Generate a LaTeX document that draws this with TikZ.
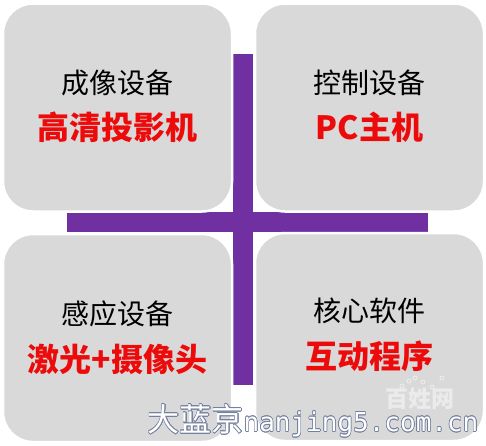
\documentclass[tikz,border=0pt]{standalone}
\usepackage{fontspec}
\usepackage{contour}
\newfontfamily\cjk{Noto Sans CJK SC}
\newfontfamily\wmmono{DejaVu Sans Mono}
\definecolor{boxgray}{rgb}{0.85,0.85,0.85}
\definecolor{crosspurple}{rgb}{0.44,0.19,0.63}
\definecolor{labelred}{rgb}{0.93,0.04,0.04}
\definecolor{logogray}{rgb}{0.92,0.92,0.92}
\definecolor{wmedge}{rgb}{0.45,0.50,0.62}
\contourlength{0.6pt}

\begin{document}
\begin{tikzpicture}[
        x=1pt,y=-1pt,
        panel/.style={fill=boxgray, draw=white, line width=2.5pt,
            rounded corners=30pt, minimum width=229pt, minimum height=208pt,
            inner sep=0pt},
        heading/.style={font={\cjk\fontsize{28}{30}\selectfont}},
        device/.style={text=labelred, font={\cjk\bfseries\fontsize{32}{34}\selectfont}},
        watermark/.style={text=white, inner sep=0pt},
        logo/.style={text=logogray, inner sep=0pt, font={\cjk\bfseries\fontsize{23}{24}\selectfont}}
    ]
    \useasboundingbox (0,0) rectangle (486,445);

    %purple cross behind the panels
    \fill[crosspurple] (233,54) rectangle (253,385);
    \fill[crosspurple] (67,212) rectangle (428,232);

    %four panels
    \node[panel] (imaging)  at (117.5,107.5) {};
    \node[panel] (control)  at (369.5,107.5) {};
    \node[panel] (sensing)  at (117.5,338) {};
    \node[panel] (software) at (369.5,337) {};

    %texts
    \node[heading] (imaging-t)  at ([yshift=25pt]imaging.center) {成像设备};
    \node[device]  (imaging-d)  at ([yshift=-20pt]imaging.center) {高清投影机};
    \node[heading] (control-t)  at ([yshift=25pt]control.center) {控制设备};
    \node[device]  (control-d)  at ([yshift=-20pt]control.center) {PC主机};
    \node[heading] (sensing-t)  at ([yshift=24pt]sensing.center) {感应设备};
    \node[device]  (sensing-d)  at ([yshift=-21pt]sensing.center) {激光+摄像头};
    \node[heading] (software-t) at ([yshift=26pt]software.center) {核心软件};
    \node[device]  (software-d) at ([yshift=-19pt]software.center) {互动程序};

    %watermark logo
    \foreach \dx/\dy in {402/386, 409/381, 415/378, 423/382, 432/387, 442/378}
        \draw[logogray, line width=1pt] (\dx,\dy) circle (2pt);
    \node[logo] (brand) at (420,399) {百姓网};

    %watermark site
    \node[watermark] (site) at (313,421)
        {\contour{wmedge}{{\cjk\fontsize{32}{34}\selectfont 大蓝京}{\wmmono\fontsize{26}{28}\selectfont nanjing5.com.cn}}};
\end{tikzpicture}
\end{document}
